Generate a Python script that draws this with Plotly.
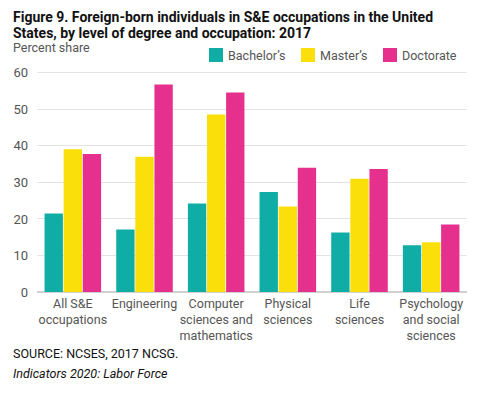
import plotly.graph_objects as go

categories = ["All S&E<br>occupations", "Engineering", "Computer<br>sciences and<br>mathematics",
              "Physical<br>sciences", "Life<br>sciences", "Psychology<br>and social<br>sciences"]
bachelors = [21.5, 17.1, 24.2, 27.4, 16.3, 12.8]
masters = [39.1, 37.0, 48.6, 23.4, 31.0, 13.6]
doctorate = [37.8, 56.8, 54.6, 34.0, 33.7, 18.5]
series_names = ["Bachelor’s", "Master’s", "Doctorate"]
colors = ["#10ADA6", "#FADF0B", "#E5318D"]
y_ticks = [0, 10, 20, 30, 40, 50, 60]

# page body has an 8px margin; work in window coordinates
OFF = 8
W, H = 488 - OFF, 397 - OFF
L, R, T, B = 37 - OFF, 21, 71 - OFF, 105
PW, PH = W - L - R, H - T - B


def px_x(x):
    return (x - OFF - L) / PW


def px_y(y):
    return (H - B - (y - OFF)) / PH


fig = go.Figure()
for name, vals, c in zip(series_names, [bachelors, masters, doctorate], colors):
    fig.add_trace(go.Bar(x=categories, y=vals, name=name, showlegend=False,
                         marker=dict(color=c, line=dict(width=0))))

font = "Roboto, 'Noto Sans', sans-serif"
fig.update_layout(
    width=W, height=H,
    margin=dict(l=L, r=R, t=T, b=B, autoexpand=False),
    paper_bgcolor="white", plot_bgcolor="white",
    barmode="group", bargap=0.2, bargroupgap=0.04,
    font=dict(family=font, color="#555555", size=12),
    xaxis=dict(showgrid=False, showline=False, ticks="", tickangle=0, ticklabelstandoff=2,
               tickfont=dict(size=12.5, color="#555555"), fixedrange=True),
    yaxis=dict(range=[0, 60.5], tickvals=y_ticks, showgrid=True, gridcolor="#E3E3E3", gridwidth=1,
               zeroline=True, zerolinecolor="#D0D0D0", showline=False, ticks="",
               ticklabelstandoff=8, tickfont=dict(size=13, color="#555555")),
)

# legend (manual, to match spacing)
legend_x = [209, 301, 383]
for name, c, lx in zip(series_names, colors, legend_x):
    fig.add_shape(type="rect", xref="paper", yref="paper",
                  x0=px_x(lx), x1=px_x(lx + 14), y0=px_y(48), y1=px_y(62),
                  fillcolor=c, line=dict(width=0))
    fig.add_annotation(text=name, xref="paper", yref="paper", x=px_x(lx + 17), y=px_y(55),
                       xanchor="left", yanchor="middle", showarrow=False,
                       font=dict(size=12.5, color="#555555", family=font))

title_lines = ["Figure 9. Foreign-born individuals in S&E occupations in the United",
               "States, by level of degree and occupation: 2017"]
for i, line in enumerate(title_lines):
    fig.add_annotation(text="<b>" + line + "</b>", xref="paper", yref="paper",
                       x=px_x(11), y=px_y(16.5 + 16.5 * i), xanchor="left", yanchor="middle",
                       showarrow=False, font=dict(size=14, color="#111111", family=font))
fig.add_annotation(text="Percent share", xref="paper", yref="paper",
                   x=px_x(11), y=px_y(48), xanchor="left", yanchor="middle", showarrow=False,
                   font=dict(size=12.5, color="#555555", family=font))
fig.add_annotation(text="SOURCE: NCSES, 2017 NCSG.", xref="paper", yref="paper",
                   x=px_x(11), y=px_y(353.5), xanchor="left", yanchor="middle", showarrow=False,
                   font=dict(size=12.5, color="#111111", family=font))
fig.add_annotation(text="<i>Indicators 2020: Labor Force</i>", xref="paper", yref="paper",
                   x=px_x(11), y=px_y(373.5), xanchor="left", yanchor="middle", showarrow=False,
                   font=dict(size=12.5, color="#111111", family=font))

fig.write_html("out.html")
